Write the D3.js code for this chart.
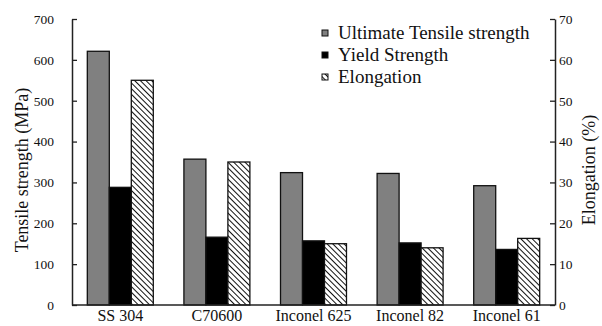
<!DOCTYPE html>
<html>
<head>
<meta charset="utf-8">
<script src="https://cdn.jsdelivr.net/npm/d3@7"></script>
<style>
  body { margin: 0; background: #fff; }
</style>
</head>
<body>
<div id="chart"></div>
<script>
const alloys = ["SS 304", "C70600", "Inconel 625", "Inconel 82", "Inconel 61"];
const ultimateTensile = [621, 357, 324, 322, 292];   // MPa
const yieldStrength = [288, 166, 157, 152, 136];     // MPa
const elongation = [55, 35, 15, 14, 16.3];           // %
const leftTicks = [0, 100, 200, 300, 400, 500, 600, 700];
const rightTicks = [0, 10, 20, 30, 40, 50, 60, 70];

const width = 602, height = 326;
const plotLeft = 72, plotRight = 555, plotTop = 19, plotBottom = 305;
const serif = "Liberation Serif";

const svg = d3.select("#chart").append("svg")
  .attr("width", width)
  .attr("height", height)
  .style("display", "block")
  .style("font-family", serif);

// hatch pattern for elongation
const defs = svg.append("defs");
const pat = defs.append("pattern")
  .attr("id", "hatch")
  .attr("patternUnits", "userSpaceOnUse")
  .attr("width", 4)
  .attr("height", 4)
  .attr("patternTransform", "rotate(-45)");
pat.append("rect").attr("width", 4).attr("height", 4).attr("fill", "#fff");
pat.append("line")
  .attr("x1", 0).attr("y1", 0).attr("x2", 0).attr("y2", 4)
  .attr("stroke", "#111").attr("stroke-width", 2);

const x0 = d3.scaleBand()
  .domain(alloys)
  .range([plotLeft, plotRight])
  .paddingInner(0.317)
  .paddingOuter(0.1585);

const series = ["uts", "ys", "el"];
const x1 = d3.scaleBand()
  .domain(series)
  .range([0, x0.bandwidth()]);

const yL = d3.scaleLinear().domain([0, 700]).range([plotBottom, plotTop]);
const yR = d3.scaleLinear().domain([0, 70]).range([plotBottom, plotTop]);

const rows = alloys.map((a, i) => ({
  alloy: a,
  bars: [
    { key: "uts", y: yL(ultimateTensile[i]), fill: "#808080" },
    { key: "ys", y: yL(yieldStrength[i]), fill: "#000" },
    { key: "el", y: yR(elongation[i]), fill: "url(#hatch)" }
  ]
}));

const g = svg.append("g");
g.selectAll("g.grp")
  .data(rows)
  .join("g")
  .attr("class", "grp")
  .attr("transform", d => `translate(${x0(d.alloy)},0)`)
  .selectAll("rect")
  .data(d => d.bars)
  .join("rect")
  .attr("x", d => x1(d.key))
  .attr("y", d => d.y)
  .attr("width", x1.bandwidth())
  .attr("height", d => plotBottom - d.y)
  .attr("fill", d => d.fill)
  .attr("stroke", "#111")
  .attr("stroke-width", 1.3);

// axes
const axL = svg.append("g")
  .attr("transform", `translate(${plotLeft},0)`)
  .call(d3.axisLeft(yL).tickValues(leftTicks).tickSize(-5).tickPadding(18).tickSizeOuter(0));
const axR = svg.append("g")
  .attr("transform", `translate(${plotRight},0)`)
  .call(d3.axisRight(yR).tickValues(rightTicks).tickSize(-5).tickPadding(4).tickSizeOuter(0));
[axL, axR].forEach(ax => {
  ax.attr("font-family", null).attr("font-size", 13.5);
  ax.select(".domain").attr("stroke", "#222").attr("stroke-width", 1.5);
  ax.selectAll(".tick line").attr("stroke", "#222").attr("stroke-width", 1.3);
  ax.selectAll(".tick text").attr("fill", "#111");
});

// baseline
svg.append("line")
  .attr("x1", plotLeft).attr("x2", plotRight)
  .attr("y1", plotBottom).attr("y2", plotBottom)
  .attr("stroke", "#222").attr("stroke-width", 1.5);

// category labels (the reference crops them at the bottom edge)
svg.append("g")
  .selectAll("text")
  .data(alloys)
  .join("text")
  .attr("x", d => x0(d) + x0.bandwidth() / 2)
  .attr("y", 321)
  .attr("text-anchor", "middle")
  .attr("font-size", 16)
  .attr("fill", "#111")
  .text(d => d);

// axis titles
svg.append("text")
  .attr("transform", `translate(28,170) rotate(-90)`)
  .attr("text-anchor", "middle")
  .attr("font-size", 18)
  .attr("fill", "#111")
  .text("Tensile strength (MPa)");
svg.append("text")
  .attr("transform", `translate(595,170) rotate(-90)`)
  .attr("text-anchor", "middle")
  .attr("font-size", 18)
  .attr("fill", "#111")
  .text("Elongation (%)");

// legend
const legendItems = [
  { label: "Ultimate Tensile strength", fill: "#808080" },
  { label: "Yield Strength", fill: "#000" },
  { label: "Elongation", fill: "url(#hatch)" }
];
const lg = svg.append("g").attr("transform", "translate(322,39)");
const li = lg.selectAll("g")
  .data(legendItems)
  .join("g")
  .attr("transform", (d, i) => `translate(0,${i * 22})`);
li.append("rect")
  .attr("x", 0).attr("y", -9)
  .attr("width", 6).attr("height", 6)
  .attr("fill", d => d.fill)
  .attr("stroke", "#111")
  .attr("stroke-width", 1);
li.append("text")
  .attr("x", 16)
  .attr("y", 0)
  .attr("font-size", 19)
  .attr("fill", "#111")
  .text(d => d.label);
</script>
</body>
</html>
